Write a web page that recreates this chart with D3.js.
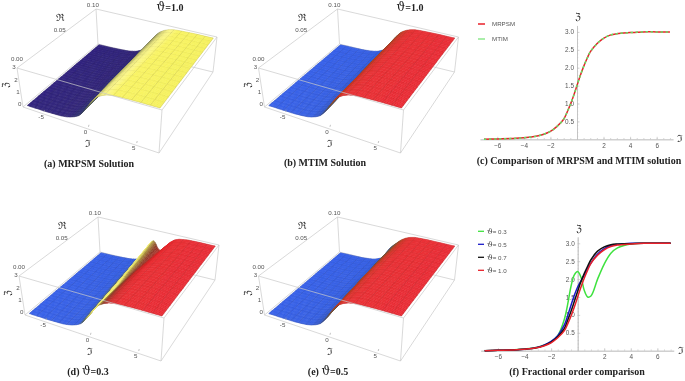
<!DOCTYPE html>
<html>
<head>
<meta charset="utf-8">
<script src="https://cdn.jsdelivr.net/npm/d3@7/dist/d3.min.js"></script>
<style>
  html, body { margin: 0; padding: 0; background: #fff; }
  svg { display: block; filter: blur(0.4px); }
  .tick3d { font-family: "Liberation Sans", sans-serif; font-size: 6.2px; fill: #555; }
  .caption { font-family: "Liberation Serif", serif; font-weight: bold; font-size: 10px; fill: #222; text-anchor: middle; }
  .theta { font-family: "DejaVu Serif", serif; font-weight: normal; font-size: 12px; }
  .sym { font-family: "DejaVu Serif", serif; font-size: 10px; fill: #333; text-anchor: middle; }
  .axis text { font-family: "Liberation Sans", sans-serif; font-size: 6.4px; fill: #555; }
  .axis line, .axis path { stroke: #c0c0c0; stroke-width: 0.7; }
  .legend { font-family: "Liberation Sans", sans-serif; font-size: 6.2px; fill: #555; }
  .legendSym { font-family: "DejaVu Serif", serif; font-size: 8px; }
</style>
</head>
<body>
<svg id="chart" width="685" height="381"></svg>
<script>
'use strict';

// sample positions along the ℑ axis, finer around the front
var xGrid = [-7,-6,-5,-4,-3,-2.5,-2,-1.5,-1,-0.75,-0.5,-0.25,0,0.25,0.5,0.75,1,1.5,2,2.5,3,4,5,6,7];

// profiles
var order10 = [0,0.01,0.02,0.04,0.09,0.14,0.22,0.36,0.56,0.75,0.97,1.22,1.5,1.78,2.03,2.25,2.44,2.67,2.82,2.91,2.95,2.98,3,3,3];
var order07 = [0,0.01,0.02,0.04,0.09,0.15,0.24,0.39,0.62,0.85,1.1,1.38,1.66,1.93,2.16,2.36,2.54,2.78,2.9,2.96,2.98,2.99,3,3,3];
var order05 = [0,0.01,0.02,0.04,0.1,0.16,0.26,0.42,0.72,0.98,1.27,1.55,1.78,1.95,2.12,2.3,2.45,2.7,2.85,2.94,2.97,3,3,3,3];
var order03 = [0,0.01,0.02,0.05,0.1,0.16,0.25,0.42,0.88,1.3,1.8,2.12,2.21,2.05,1.68,1.5,1.53,2,2.42,2.72,2.87,2.98,3,3,3];
var order03mid = [0,0.01,0.02,0.04,0.09,0.15,0.24,0.39,0.7,0.98,1.3,1.6,1.85,1.95,1.92,1.95,2.1,2.4,2.65,2.82,2.92,2.99,3,3,3];

// surfaces: rows at these ℜ values
var yRows = [0, 0.05, 0.1];
var surfaceA = [order10, order10, order10];
var surfaceD = [order10, order03mid, order03];
var surfaceE = [order10, order07, order05];

var colorStopsX = [-7,-2.2,-1.4,-0.8,-0.3,0.2,0.7,1.2,1.8,2.6,7];
var colorsA = ['#281a78','#2a1e74','#2c2c70','#3a4468','#5f6a60','#8f9060','#c5c270','#ece87e','#fbf684','#f8f35e','#f5f15a'];
var colorsB = ['#2f5be8','#2f5ae0','#3056c8','#3c5498','#6a5a48','#9a5230','#c43c28','#da302a','#e42a2c','#e8282e','#e8272f'];

var colorStopsD = [-7,-2,-1.4,-1,-0.6,0.15,0.35,0.7,1.3,2.2,7];
var colorsD = ['#2f5be8','#2f5ae0','#5a6a60','#c8c868','#f0ec70','#f6f27a','#a89040','#8c3a28','#cc2a28','#e8282e','#e8272f'];

// how far the colour bands sit to the right, per row of yRows
var shiftA = [0.1, 0.3, 0.6];
var shiftD = [0.7, 0, -0.3];

var tickX3d = [-5,0,5];
var tickY3d = [0,0.05,0.1];
var tickZ3d = [0,1,2,3];
var tickLabelY = ['0.00','0.05','0.10'];

var axisTicksX = [-6,-4,-2,2,4,6];
var axisTicksY = [0.5,1,1.5,2,2.5,3];

var legendC = ['MRPSM','MTIM'];
var legendF = ['= 0.3','= 0.5','= 0.7','= 1.0'];
var legendFColors = ['#3fe23f','#1a1ac8','#111','#e8202a'];

var svg = d3.select('#chart');

// box corners of the 3D frame in panel (a), front/back + left/right + bottom/top
var box = {
    fbl: [23,107], fbr: [159,153], bbl: [98,44], bbr: [213,72],
    ftl: [17,68], ftr: [162,110], btl: [96,9], btr: [217,37]
};
var xNorm = d3.scaleLinear().domain([-7.3,7.3]).range([0,1]);
var yNorm = d3.scaleLinear().domain([-0.002,0.102]).range([0,1]);
var zNorm = d3.scaleLinear().domain([-0.06,3.06]).range([0,1]);
var kx = 1.13, ky = 1.3;

// trilinear map through the box, with a small warp for perspective
function project(x, y, z) {
    var u = xNorm(x), v = yNorm(y), w = zNorm(z);
    u = u / (kx - u * (kx - 1));
    v = ky * v / (1 + (ky - 1) * v);
    function mix(a, b, t) { return a + (b - a) * t; }
    var res = [];
    for (var i = 0; i < 2; i++) {
        var f0 = mix(box.fbl[i], box.fbr[i], u);
        var b0 = mix(box.bbl[i], box.bbr[i], u);
        var f1 = mix(box.ftl[i], box.ftr[i], u);
        var b1 = mix(box.btl[i], box.btr[i], u);
        res.push(mix(mix(f0, b0, v), mix(f1, b1, v), w));
    }
    return res;
}

function draw3D(dx, dy, surface, colorStops, colors, colorShift) {
    var g = svg.append('g').attr('transform', 'translate(' + dx + ',' + dy + ')');
    var colorScale = d3.scaleLinear().domain(colorStops).range(colors);
    var shiftScale = d3.scaleLinear().domain(yRows).range(colorShift);
    var rowScales = surface.map(function(row) {
        return d3.scaleLinear().domain(xGrid).range(row);
    });
    var rowBlend = d3.scaleLinear().domain(yRows).range([0,1,2]);

    function zAt(x, y) {
        var t = rowBlend(y);
        var i = Math.min(Math.floor(t), surface.length - 2);
        return rowScales[i](x) + (rowScales[i+1](x) - rowScales[i](x)) * (t - i);
    }

    var frameColor = '#c8c8c8';
    function edge(a, b) {
        g.append('line')
            .attr('x1', a[0]).attr('y1', a[1])
            .attr('x2', b[0]).attr('y2', b[1])
            .attr('stroke', frameColor).attr('stroke-width', 0.7);
    }

    // back edges go under the surface
    edge(box.bbl, box.btl);
    edge(box.bbl, box.bbr);
    edge(box.bbl, box.fbl);

    // painter's order: far row first, left to right
    var meshX = 16, meshY = 16;
    var subX = 8, subY = 2;
    var nx = meshX * subX, ny = meshY * subY;
    var quads = [];
    for (var j = ny - 1; j >= 0; j--) {
        for (var i = 0; i < nx; i++) {
            quads.push({i: i, j: j});
        }
    }
    var xs = d3.scaleLinear().domain([0,nx]).range([-7,7]);
    var ys = d3.scaleLinear().domain([0,ny]).range([0,0.1]);
    var pt = function(i, j) {
        return project(xs(i), ys(j), zAt(xs(i), ys(j)));
    };
    var cellColor = function(q) {
        return colorScale(Math.max(-7, Math.min(7, xs(q.i + 0.5) - shiftScale(ys(q.j + 0.5)))));
    };
    var line = d3.line();

    var cells = g.selectAll('g.cell').data(quads).enter().append('g').attr('class', 'cell');
    cells.append('path')
        .attr('d', function(q) {
            return line([pt(q.i,q.j), pt(q.i+1,q.j), pt(q.i+1,q.j+1), pt(q.i,q.j+1)]) + 'Z';
        })
        .attr('fill', cellColor)
        .attr('stroke', cellColor)
        .attr('stroke-width', 0.4);
    cells.append('path')
        .attr('d', function(q) {
            var d = '';
            if (q.j % subY === 0) d += line([pt(q.i,q.j), pt(q.i+1,q.j)]);
            if (q.j === ny - 1) d += line([pt(q.i,q.j+1), pt(q.i+1,q.j+1)]);
            if (q.i % subX === 0) d += line([pt(q.i,q.j), pt(q.i,q.j+1)]);
            if (q.i === nx - 1) d += line([pt(q.i+1,q.j), pt(q.i+1,q.j+1)]);
            return d || null;
        })
        .attr('fill', 'none')
        .attr('stroke', 'rgba(50,45,30,0.3)')
        .attr('stroke-width', 0.4);

    // front edges go on top
    edge(box.ftl, box.btl);
    edge(box.btl, box.btr);
    edge(box.btr, box.ftr);
    edge(box.ftl, box.ftr);
    edge(box.ftl, box.fbl);
    edge(box.fbl, box.fbr);
    edge(box.fbr, box.ftr);
    edge(box.fbr, box.bbr);
    edge(box.bbr, box.btr);

    // ticks and labels
    tickX3d.forEach(function(t) {
        var p = project(t, 0, -0.06);
        g.append('line').attr('x1', p[0]).attr('y1', p[1]).attr('x2', p[0] + 0.5).attr('y2', p[1] - 2)
            .attr('stroke', '#999').attr('stroke-width', 0.6);
        g.append('text').attr('class', 'tick3d').attr('x', p[0] - 3).attr('y', p[1] + 7)
            .attr('text-anchor', 'middle').text(t);
    });
    tickY3d.forEach(function(t, k) {
        var p = project(-7.3, t, 3.06);
        g.append('text').attr('class', 'tick3d').attr('x', p[0] - 2).attr('y', p[1] - (k === 0 ? 5.2 : 2.8))
            .attr('text-anchor', 'middle').text(tickLabelY[k]);
    });
    tickZ3d.forEach(function(t) {
        var p = project(-7.3, 0, t);
        g.append('text').attr('class', 'tick3d').attr('x', p[0] - 5).attr('y', p[1] + 1.8)
            .attr('text-anchor', 'middle').text(t);
    });

    g.append('text').attr('class', 'sym').attr('x', 60).attr('y', 21).text('ℜ');
    g.append('text').attr('class', 'sym').attr('x', 88).attr('y', 147).text('ℑ');
    g.append('text').attr('class', 'sym')
        .attr('transform', 'translate(9,85) rotate(-90)').text('ℨ');
}

draw3D(0, 0, surfaceA, colorStopsX, colorsA, shiftA);
draw3D(241.5, 0, surfaceA, colorStopsX, colorsB, shiftA);
draw3D(2, 208, surfaceD, colorStopsD, colorsD, shiftD);
draw3D(241.5, 208, surfaceE, colorStopsX, colorsB, shiftA);

// 2D panels
function draw2D(x0, yBase, series, colors, dashes) {
    var x = d3.scaleLinear().domain([-7.3,7.23]).range([x0 - 97, x0 + 96]);
    var y = d3.scaleLinear().domain([0,3.18]).range([yBase, yBase - 3.18 * 35.8]);
    var g = svg.append('g');

    g.append('g').attr('class', 'axis')
        .attr('transform', 'translate(0,' + yBase + ')')
        .call(d3.axisBottom(x).tickValues(d3.range(-7,7.01,0.5)).tickSizeInner(-1.2).tickSizeOuter(0).tickFormat(''));
    g.append('g').attr('class', 'axis')
        .attr('transform', 'translate(0,' + yBase + ')')
        .call(d3.axisBottom(x).tickValues(axisTicksX).tickSizeInner(-2.5).tickSizeOuter(0).tickPadding(4).tickFormat(d3.format('d')));
    g.append('g').attr('class', 'axis')
        .attr('transform', 'translate(' + x0 + ',0)')
        .call(d3.axisLeft(y).tickValues(d3.range(0.1,3.15,0.1)).tickSizeInner(-1.2).tickSizeOuter(0).tickFormat(''));
    g.append('g').attr('class', 'axis')
        .attr('transform', 'translate(' + x0 + ',0)')
        .call(d3.axisLeft(y).tickValues(axisTicksY).tickSizeInner(-2.5).tickSizeOuter(0).tickPadding(3).tickFormat(d3.format('.1f')));

    var line = d3.line()
        .x(function(d, i) { return x(xGrid[i]); })
        .y(function(d) { return y(d); })
        .curve(d3.curveCatmullRom);
    series.forEach(function(s, k) {
        g.append('path')
            .attr('d', line(s))
            .attr('fill', 'none')
            .attr('stroke', colors[k])
            .attr('stroke-width', 1.5)
            .attr('stroke-dasharray', dashes[k]);
    });

    g.append('text').attr('class', 'sym').attr('x', x0 + 1).attr('y', yBase - 119).text('ℨ');
    g.append('text').attr('class', 'sym').attr('x', x0 + 103).attr('y', yBase + 3).text('ℑ');
}

draw2D(577, 139.3, [order10, order10], ['#e8202a','#63e063'], [null,'2.5,2.5']);
draw2D(577.7, 350.7, [order03, order05, order07, order10], legendFColors, [null,null,null,null]);

// legends
legendC.forEach(function(t, k) {
    var yy = 24 + k * 15;
    svg.append('line').attr('x1', 478).attr('x2', 485).attr('y1', yy).attr('y2', yy)
        .attr('stroke', ['#e8202a','#8ee88e'][k]).attr('stroke-width', 1.5);
    svg.append('text').attr('class', 'legend').attr('x', 492).attr('y', yy + 2.2).text(t);
});
legendF.forEach(function(t, k) {
    var yy = 231.3 + k * 13;
    svg.append('line').attr('x1', 478).attr('x2', 484).attr('y1', yy).attr('y2', yy)
        .attr('stroke', legendFColors[k]).attr('stroke-width', 1.3);
    var txt = svg.append('text').attr('class', 'legend').attr('x', 487).attr('y', yy + 2.2);
    txt.append('tspan').attr('class', 'legendSym').text('ϑ');
    txt.append('tspan').text(t);
});

// titles and captions
function caption(x, y, before, after) {
    var t = svg.append('text').attr('class', 'caption').attr('x', x).attr('y', y);
    if (before) t.append('tspan').text(before);
    if (after) {
        t.append('tspan').attr('class', 'theta').text('ϑ');
        t.append('tspan').text(after);
    }
}
caption(170, 11, '', '=1.0');
caption(410, 11, '', '=1.0');
caption(89, 167, '(a) MRPSM Solution');
caption(325, 166, '(b) MTIM Solution');
caption(579, 164, '(c) Comparison of MRPSM and MTIM solution');
caption(88, 375, '(d) ', '=0.3');
caption(328, 375, '(e) ', '=0.5');
caption(577, 375, '(f) Fractional order comparison');
</script>
</body>
</html>
